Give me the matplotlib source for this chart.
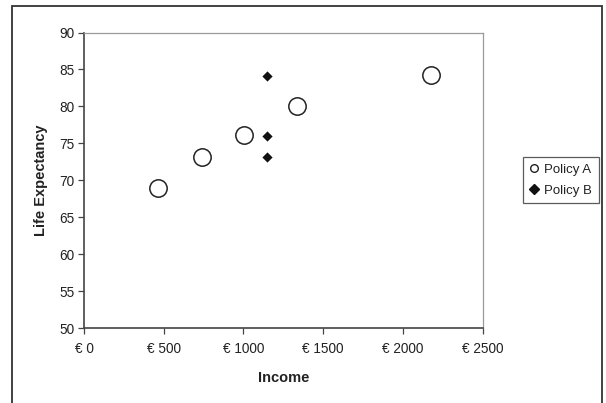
import matplotlib
matplotlib.use("Agg")
import matplotlib.pyplot as plt
from matplotlib.patches import Rectangle
from matplotlib.lines import Line2D

plt.rcParams['font.family'] = ['Liberation Sans', 'DejaVu Sans']

# Policy A: income vs life expectancy
policy_a_income = [466, 741, 1001, 1339, 2177]
policy_a_life = [69.0, 73.2, 76.1, 80.0, 84.2]

# Policy B: same income level, three outcomes
policy_b_income = [1150, 1150, 1150]
policy_b_life = [84.1, 76.0, 73.1]

x_ticks = [0, 500, 1000, 1500, 2000, 2500]
x_tick_labels = ["€ 0", "€ 500", "€ 1000", "€ 1500", "€ 2000", "€ 2500"]
y_ticks = [50, 55, 60, 65, 70, 75, 80, 85, 90]

W, H = 606, 403
fig = plt.figure(figsize=(W / 100, H / 100), dpi=100)

# plot area in pixel coordinates
left, right, top, bottom = 84, 482.5, 32.5, 328
ax = fig.add_axes([left / W, 1 - bottom / H, (right - left) / W, (bottom - top) / H])

ax.scatter(policy_a_income, policy_a_life, s=12.5 ** 2, facecolors='white',
           edgecolors='#222222', linewidths=1.1, marker='o', zorder=3)
ax.scatter(policy_b_income, policy_b_life, s=5.2 ** 2, color='#111111',
           marker='D', linewidths=0, zorder=3)

ax.set_xlim(0, 2500)
ax.set_ylim(50, 90)
ax.set_xticks(x_ticks)
ax.set_xticklabels(x_tick_labels)
ax.set_yticks(y_ticks)

ax.tick_params(axis='both', direction='out', length=4, width=0.9,
               color='#444444', labelsize=9.8, labelcolor='#222222')
ax.tick_params(axis='x', pad=6)
ax.tick_params(axis='y', pad=3)

for side in ('left', 'bottom'):
    ax.spines[side].set_color('#444444')
    ax.spines[side].set_linewidth(1.2)
for side in ('top', 'right'):
    ax.spines[side].set_color('#9a9a9a')
    ax.spines[side].set_linewidth(0.9)

ax.set_xlabel("Income", fontsize=10.5, fontweight='bold', color='#222222', labelpad=11)
ax.set_ylabel("Life Expectancy", fontsize=10.5, fontweight='bold', color='#222222', labelpad=8)

# legend box
leg_handles = [
    Line2D([], [], linestyle='none', marker='o', markersize=5.5, markerfacecolor='white',
           markeredgecolor='#222222', markeredgewidth=1.0),
    Line2D([], [], linestyle='none', marker='D', markersize=5, color='#111111'),
]
leg = fig.legend(leg_handles, ["Policy A", "Policy B"], loc='center left',
                 bbox_to_anchor=(523 / W, 1 - 180 / H), frameon=True, fancybox=False,
                 fontsize=9.5, handlelength=0.6, handletextpad=0.5, borderpad=0.5,
                 labelspacing=0.65, borderaxespad=0)
leg.get_frame().set_edgecolor('#333333')
leg.get_frame().set_linewidth(0.9)
for t in leg.get_texts():
    t.set_color('#222222')

# outer chart border
fig.patches.append(Rectangle((12 / W, -0.05), (602 - 12) / W, 1 - 5.5 / H + 0.05,
                             transform=fig.transFigure, fill=False,
                             edgecolor='#333333', linewidth=1.3))

fig.savefig("out.png", dpi=100)
